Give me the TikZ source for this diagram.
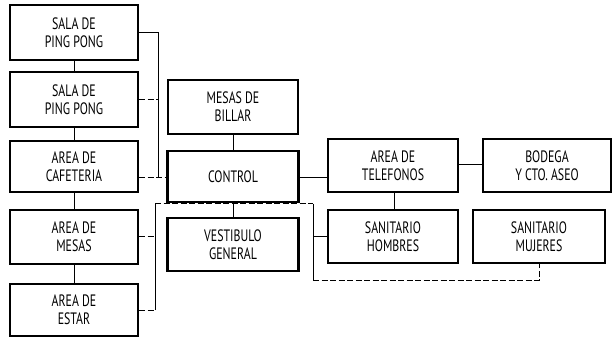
\documentclass[tikz,border=0pt]{standalone}
\usepackage{fontspec}
\newfontfamily\lbl[FakeStretch=0.72]{PT Sans}
\begin{document}
\begin{tikzpicture}[x=1pt,y=-1pt,
  box/.style={draw,line width=2.4pt,rectangle,align=center,inner sep=0pt,
    font=\lbl\fontsize{16.5}{18}\selectfont},
  conn/.style={line width=1pt},
  dconn/.style={line width=1pt,dash pattern=on 6pt off 2.5pt}]
\useasboundingbox (0,0) rectangle (613,339);
% left column
\node[box,minimum width=128pt,minimum height=55pt] (p1) at (74,32.5) {SALA DE\\PING PONG};
\node[box,minimum width=128pt,minimum height=55pt] (p2) at (74,99.5) {SALA DE\\PING PONG};
\node[box,minimum width=128pt,minimum height=51pt] (caf) at (74,166.5) {AREA DE\\CAFETERIA};
\node[box,minimum width=128pt,minimum height=54pt] (mes) at (74,237) {AREA DE\\MESAS};
\node[box,minimum width=128pt,minimum height=52pt] (est) at (74,310) {AREA DE\\ESTAR};
% center column
\node[box,minimum width=130pt,minimum height=54pt] (bil) at (233,107) {MESAS DE\\BILLAR};
\node[box,minimum width=131pt,minimum height=51pt] (ctl) at (233,176.5) {CONTROL};
\node[box,minimum width=131pt,minimum height=53pt] (ves) at (233,244.5) {VESTIBULO\\GENERAL};
% right
\node[box,minimum width=130pt,minimum height=53pt] (tel) at (393,165.5) {AREA DE\\TELEFONOS};
\node[box,minimum width=128pt,minimum height=53pt] (bod) at (547,165.5) {BODEGA\\Y CTO. ASEO};
\node[box,minimum width=130pt,minimum height=53pt] (hom) at (393,236.5) {SANITARIO\\HOMBRES};
\node[box,minimum width=132pt,minimum height=53pt] (muj) at (539,236.5) {SANITARIO\\MUJERES};
% coordinates
\coordinate (a1) at (158,33);
\coordinate (a2) at (158,178);
\coordinate (b1) at (155,204);
\coordinate (b2) at (155,310);
\coordinate (c1) at (313,204);
\coordinate (c2) at (313,280);
\coordinate (c3) at (539,280);
% left column vertical links
\draw[conn] (p1) -- (p2);
\draw[conn] (p2) -- (caf);
\draw[conn] (caf) -- (mes);
\draw[conn] (mes) -- (est);
% left bracket
\draw[conn] (p1.east |- a1) -- (a1) -- (a2);
\draw[dconn] (p2.east) -- (p2.east -| a1);
\draw[dconn] (caf.east |- a2) -- (ctl.west |- a2);
% center links
\draw[conn] (bil) -- (ctl);
\draw[conn] (ctl) -- (ves);
\draw[conn] (ctl.east |- 0,178) -- (tel.west |- 0,178);
\draw[conn] (tel.east |- 0,165) -- (bod.west |- 0,165);
\draw[conn] (tel.south -| 394,0) -- (hom.north -| 394,0);
% lower bracket
\draw[dconn] (mes.east) -- (mes.east -| b1);
\draw[dconn] (est.east |- b2) -- (b2);
\draw[conn] (b2) -- (b1);
\draw[dconn] (b1) -- (c1);
\draw[conn] (c1) -- (c2);
\draw[dconn] (c2) -- (c3) -- (muj.south);
\draw[conn] (hom.west) -- (hom.west -| c1);
\end{tikzpicture}
\end{document}
